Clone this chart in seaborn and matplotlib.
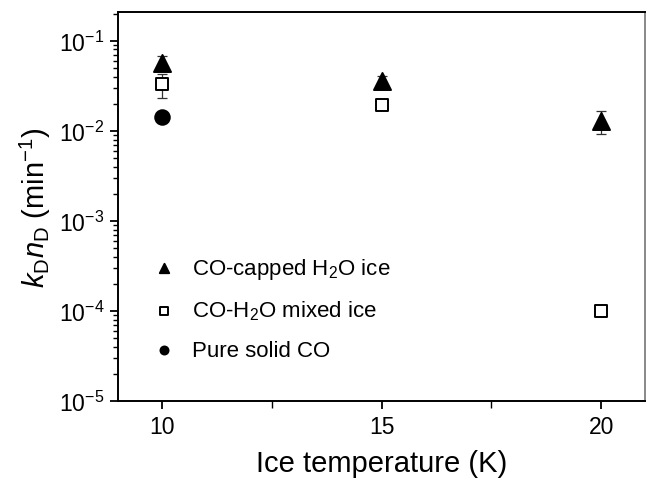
import numpy as np
import pandas as pd
import matplotlib
matplotlib.use("Agg")
import matplotlib.pyplot as plt
import seaborn as sns
from matplotlib.ticker import LogLocator, FixedLocator, NullFormatter

sns.set_style("ticks")
plt.rcParams["font.family"] = ["Liberation Sans", "DejaVu Sans"]
plt.rcParams["mathtext.fontset"] = "custom"
plt.rcParams["mathtext.rm"] = "Liberation Sans"
plt.rcParams["mathtext.it"] = "Liberation Sans:italic"
plt.rcParams["mathtext.bf"] = "Liberation Sans:bold"
plt.rcParams["text.color"] = "black"
plt.rcParams["axes.labelcolor"] = "black"
plt.rcParams["xtick.color"] = "black"
plt.rcParams["ytick.color"] = "black"

# Rate constants vs. ice temperature
capped_T = [10, 15, 20]
capped_k = [0.057, 0.036, 0.0129]
capped_err = [0.010, 0.005, 0.0037]

mixed_T = [10, 15, 20]
mixed_k = [0.033, 0.0195, 0.0001]
mixed_err = [0.010, 0.0, 0.0]

pure_T = [10]
pure_k = [0.0143]

series_names = ["CO-capped H$_2$O ice", "CO-H$_2$O mixed ice", "Pure solid CO"]

df = pd.concat([
    pd.DataFrame({"T": capped_T, "k": capped_k, "err": capped_err, "sample": series_names[0]}),
    pd.DataFrame({"T": mixed_T, "k": mixed_k, "err": mixed_err, "sample": series_names[1]}),
    pd.DataFrame({"T": pure_T, "k": pure_k, "err": [0.0], "sample": series_names[2]}),
], ignore_index=True)

fig = plt.figure(figsize=(6.47, 4.89), dpi=100)
ax = fig.add_axes([0.1824, 0.178, 0.8146, 0.796])

# error bars first, markers drawn on top
for name in series_names:
    sub = df[df["sample"] == name]
    sub = sub[sub["err"] > 0]
    if len(sub):
        ax.errorbar(sub["T"], sub["k"], yerr=sub["err"], fmt="none",
                    ecolor="#333333", elinewidth=0.9, capsize=3.5, capthick=0.9, zorder=2)

markers = {series_names[0]: "^", series_names[1]: "s", series_names[2]: "o"}
sizes = {series_names[0]: 150, series_names[1]: 85, series_names[2]: 110}
faces = {series_names[0]: "black", series_names[1]: "white", series_names[2]: "black"}
for name in series_names:
    sub = df[df["sample"] == name]
    sns.scatterplot(data=sub, x="T", y="k", marker=markers[name], s=sizes[name],
                    color=faces[name], edgecolor="black", linewidth=1.4,
                    label=name, ax=ax, zorder=3)

ax.set_yscale("log")
ax.set_ylim(1e-5, 0.21)
ax.set_xlim(9, 21)

ax.xaxis.set_major_locator(FixedLocator([10, 15, 20]))
ax.xaxis.set_minor_locator(FixedLocator([12.5, 17.5]))
ax.yaxis.set_minor_locator(LogLocator(base=10, subs=np.arange(2, 10), numticks=20))
ax.yaxis.set_minor_formatter(NullFormatter())
ax.set_yticks([1e-5, 1e-4, 1e-3, 1e-2, 1e-1])
ax.set_yticklabels(["10$^{-5}$", "10$^{-4}$", "10$^{-3}$", "10$^{-2}$", "10$^{-1}$"])
ax.set_xticklabels(["10", "15", "20"])

ax.tick_params(axis="both", which="major", direction="out", length=6, width=1.3,
               labelsize=16.5, pad=4, color="black", labelcolor="black")
ax.tick_params(axis="both", which="minor", direction="out", length=3.5, width=1.0,
               color="black")
ax.tick_params(axis="x", which="minor", length=5)

for side in ["left", "bottom", "top", "right"]:
    ax.spines[side].set_visible(True)
    ax.spines[side].set_linewidth(1.4)
    ax.spines[side].set_color("black")
ax.spines["right"].set_color("#888888")

ax.set_xlabel("Ice temperature (K)", fontsize=21, labelpad=8)
ax.set_ylabel("$k_\\mathrm{D}n_\\mathrm{D}$ (min$^{-1}$)", fontsize=21, labelpad=4)

leg = ax.legend(loc="lower left", bbox_to_anchor=(0.028, 0.052), frameon=False,
                fontsize=16, markerscale=0.55, handletextpad=0.75, labelspacing=0.8,
                handlelength=1.0)
for t in leg.get_texts():
    t.set_color("black")

fig.savefig("out.png", dpi=100)
